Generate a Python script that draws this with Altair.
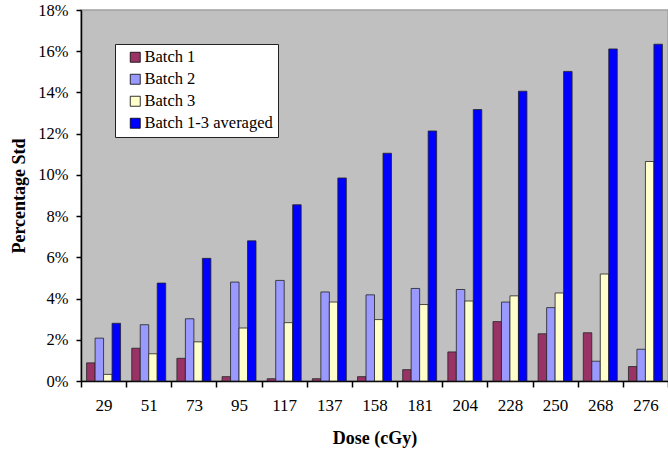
import altair as alt
import pandas as pd

doses = ["29", "51", "73", "95", "117", "137", "158", "181", "204", "228", "250", "268", "276"]
series = ["Batch 1", "Batch 2", "Batch 3", "Batch 1-3 averaged"]
batch1 = [0.88, 1.59, 1.10, 0.21, 0.11, 0.11, 0.21, 0.55, 1.41, 2.88, 2.29, 2.34, 0.70]
batch2 = [2.08, 2.73, 3.02, 4.80, 4.88, 4.32, 4.18, 4.49, 4.44, 3.83, 3.56, 0.96, 1.54]
batch3 = [0.32, 1.32, 1.90, 2.57, 2.83, 3.83, 2.98, 3.71, 3.88, 4.13, 4.27, 5.19, 10.65]
averaged = [2.80, 4.75, 5.95, 6.80, 8.55, 9.85, 11.05, 12.13, 13.17, 14.06, 15.02, 16.11, 16.34]
colors = ["#993366", "#9999FF", "#FFFFCC", "#0000FF"]
y_ticks = [0, 0.02, 0.04, 0.06, 0.08, 0.10, 0.12, 0.14, 0.16, 0.18]

rows = []
for name, vals in zip(series, [batch1, batch2, batch3, averaged]):
    for d, v in zip(doses, vals):
        rows.append({"Dose": d, "Series": name, "Value": v / 100.0})
df = pd.DataFrame(rows)

FONT = "Liberation Serif"

chart = alt.Chart(df).mark_bar(stroke="#222222", strokeWidth=0.8).encode(
    x=alt.X("Dose:N", sort=doses,
            scale=alt.Scale(paddingInner=0, paddingOuter=0),
            axis=alt.Axis(title="Dose (cGy)", labelAngle=0, tickBand="extent",
                          tickSize=6, labelPadding=10, labelFontSize=17,
                          labelFont=FONT, titleFont=FONT, titleFontWeight="bold",
                          labelColor="#000000", titleColor="#000000",
                          titleFontSize=18, titleY=62, titleBaseline="alphabetic",
                          domainColor="#000000", domainWidth=1.5,
                          tickColor="#000000", tickWidth=1.5)),
    xOffset=alt.XOffset("Series:N", sort=series,
                        scale=alt.Scale(paddingInner=0, paddingOuter=0.66)),
    y=alt.Y("Value:Q",
            scale=alt.Scale(domain=[0, 0.18], nice=False),
            axis=alt.Axis(title="Percentage Std", values=y_ticks, format=".0%",
                          grid=False, tickSize=5, labelPadding=8, labelFontSize=16.5,
                          labelFont=FONT, titleFont=FONT, titleFontWeight="bold",
                          labelColor="#000000", titleColor="#000000",
                          titleFontSize=18, titleX=-62,
                          titleBaseline="middle",
                          domainColor="#000000", domainWidth=1.5,
                          tickColor="#000000", tickWidth=1.5)),
    color=alt.Color("Series:N", sort=series,
                    scale=alt.Scale(domain=series, range=colors),
                    legend=alt.Legend(title=None, orient="none", legendX=34, legendY=34,
                                      fillColor="#FFFFFF", strokeColor="#222222",
                                      padding=5, symbolType="square", symbolSize=100,
                                      symbolOffset=7, labelOffset=1,
                                      symbolStrokeColor="#000000", symbolStrokeWidth=0.8,
                                      labelFontSize=16.5, labelFont=FONT,
                                      labelColor="#000000", rowPadding=5)),
).properties(
    width=587, height=371,
    background="#FFFFFF",
    autosize=alt.AutoSizeParams(type="none"),
    padding={"left": 81, "top": 10, "right": 0, "bottom": 68},
).configure_view(
    fill="#C0C0C0", stroke="#A0A0A0", strokeWidth=1.5
)

chart.save("out.html", embed_options={"renderer": "svg", "actions": False})
